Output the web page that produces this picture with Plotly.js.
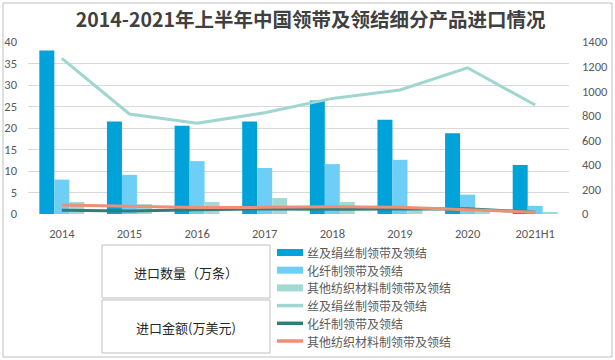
<!DOCTYPE html>
<html><head><meta charset="utf-8">
<script src="https://cdn.plot.ly/plotly-3.0.1.min.js"></script>
<style>html,body{margin:0;padding:0;background:#fff}#c{width:615px;height:360px}</style>
</head><body><div id="c"></div>
<script>
const categories = ['2014','2015','2016','2017','2018','2019','2020','2021H1'];
const seriesNames = ['丝及绢丝制领带及领结','化纤制领带及领结','其他纺织材料制领带及领结'];
// 进口数量（万条）
const qtySilk = [38, 21.5, 20.5, 21.5, 26.4, 21.9, 18.8, 11.4];
const qtyFiber = [8, 9.1, 12.3, 10.7, 11.6, 12.6, 4.5, 1.9];
const qtyOther = [2.8, 2.3, 2.8, 3.7, 2.8, 1.6, 1.2, 0.5];
// 进口金额（万美元）
const amtSilk = [1267, 814, 738, 824, 941, 1009, 1190, 887];
const amtFiber = [30, 24, 35, 41, 38, 43, 43, 15];
const amtOther = [73, 60, 52, 54, 60, 54, 33, 14];
const boxLabels = ['进口数量（万条）','进口金额(万美元)'];
const titleText = '2014-2021年上半年中国领带及领结细分产品进口情况';

const FONT = 'Calibri, Carlito, "Open Sans", "Noto Sans CJK SC", sans-serif';
const CJK = '"Noto Sans CJK SC", sans-serif';
const barColors = ['#00a2da','#6dcff6','#a2d9d3'];
const lineColors = ['#9fd6cf','#2e7f78','#ee8f78'];

const traces = [];
[qtySilk, qtyFiber, qtyOther].forEach((v,i)=>traces.push({
  type:'bar', x:categories, y:v, name:seriesNames[i], marker:{color:barColors[i]}, yaxis:'y'
}));
[amtSilk, amtFiber, amtOther].forEach((v,i)=>traces.push({
  type:'scatter', mode:'lines', x:categories, y:v, name:seriesNames[i], line:{color:lineColors[i], width:3}, yaxis:'y2'
}));

const L=28, R=569, T=42, B=214;
const px=x=>(x-L)/(R-L), py=y=>(B-y)/(B-T);

const shapes = [
  {type:'rect', xref:'paper', yref:'paper', x0:px(3), x1:px(612), y0:py(3), y1:py(357), line:{color:'#bfbfbf', width:1}},
  {type:'rect', xref:'paper', yref:'paper', x0:px(102), x1:px(270), y0:py(245), y1:py(298), line:{color:'#bfbfbf', width:1}},
  {type:'rect', xref:'paper', yref:'paper', x0:px(102), x1:px(270), y0:py(300), y1:py(353), line:{color:'#bfbfbf', width:1}}
];
const annotations = [
  {text:boxLabels[0], xref:'paper', yref:'paper', x:px(186), y:py(272), showarrow:false, font:{family:CJK, size:13, color:'#262626'}, xanchor:'center', yanchor:'middle'},
  {text:boxLabels[1], xref:'paper', yref:'paper', x:px(186), y:py(327), showarrow:false, font:{family:CJK, size:13, color:'#262626'}, xanchor:'center', yanchor:'middle'}
];
// legend (drawn in paper space)
const legY0 = 252.5, legStep = 17.7;
traces.forEach((t,i)=>{
  const yc = legY0 + i*legStep;
  if (t.type==='bar') {
    shapes.push({type:'rect', xref:'paper', yref:'paper', x0:px(277), x1:px(303), y0:py(yc-3.5), y1:py(yc+3.5), fillcolor:t.marker.color, line:{width:0}});
  } else {
    shapes.push({type:'line', xref:'paper', yref:'paper', x0:px(277), x1:px(303), y0:py(yc), y1:py(yc), line:{color:t.line.color, width:3.5}});
  }
  annotations.push({text:t.name, xref:'paper', yref:'paper', x:px(305), y:py(yc), xanchor:'left', yanchor:'middle', showarrow:false, font:{family:CJK, size:12, color:'#595959'}});
});

const layout = {
  width:615, height:360,
  margin:{l:L, r:615-R, t:T, b:360-B},
  paper_bgcolor:'#fff', plot_bgcolor:'#fff',
  font:{family:FONT, size:12, color:'#595959'},
  title:{text:titleText, font:{family:CJK, size:19.5, color:'#404040', weight:'bold'}, x:0.505, xanchor:'center', y:0.945, yanchor:'middle'},
  barmode:'group', bargap:0.335, bargroupgap:0,
  xaxis:{type:'category', showgrid:false, showline:false, ticks:'', tickfont:{size:12.5, color:'#595959'}, ticklabelstandoff:10},
  yaxis:{range:[0,40], dtick:5, showgrid:true, gridcolor:'#d9d9d9', gridwidth:1, zeroline:false, showline:false, ticks:'', tickfont:{size:12.5}, ticklabelstandoff:10},
  yaxis2:{range:[0,1400], dtick:200, overlaying:'y', side:'right', showgrid:false, zeroline:false, showline:false, ticks:'', tickfont:{size:12.5}, ticklabelstandoff:12},
  showlegend:false,
  shapes, annotations
};
Plotly.newPlot('c', traces, layout, {displayModeBar:false, staticPlot:true});
</script></body></html>
